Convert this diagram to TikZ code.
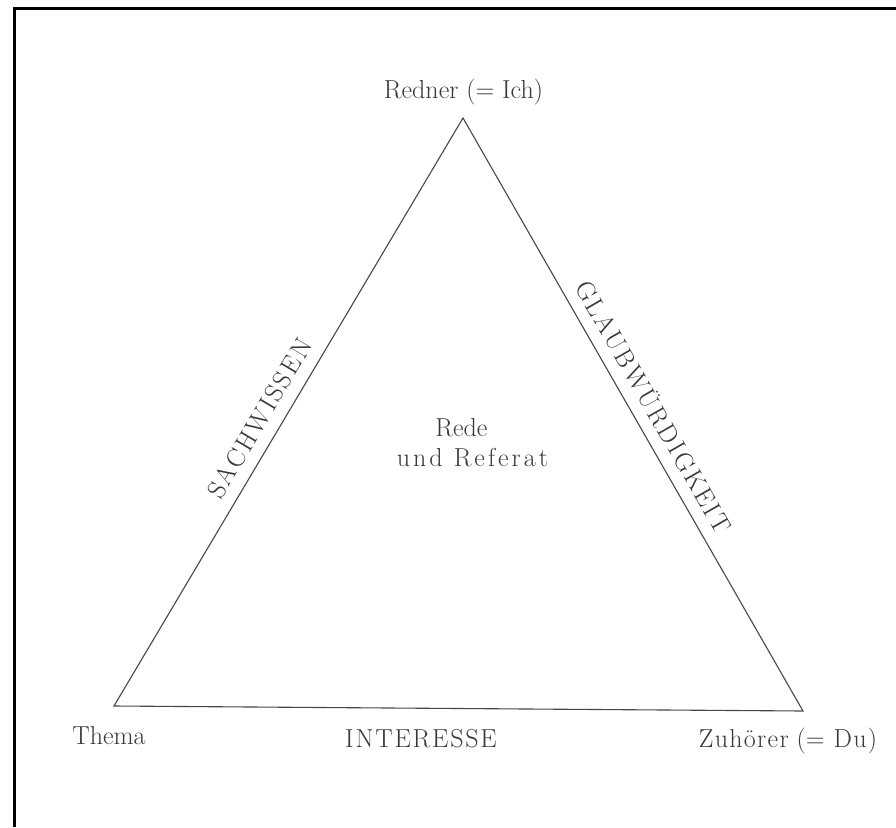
\documentclass[tikz,border=0pt]{standalone}
\usepackage{fontspec}
\ExplSyntaxOn
\NewDocumentCommand\trk{mm}{\tl_map_inline:nn{#2}{##1\kern#1}\unkern}
\ExplSyntaxOff
\begin{document}
\begin{tikzpicture}[x=1pt,y=-1pt,
  ink/.style={text=black!78},
  lbl/.style={ink,inner sep=0pt,font=\fontsize{26}{32}\selectfont},
  edgelbl/.style={ink,inner xsep=0pt,inner ysep=12pt,sloped,anchor=south,font=\fontsize{26}{32}\selectfont},
  tri/.style={draw=black!72,line width=1.1pt,line join=miter},
  frame/.style={draw=black,line width=3pt}]
\useasboundingbox (0,0) rectangle (896,827);
\fill[white] (0,0) rectangle (896,827);
\draw[frame] (14,827) -- (14,8) -- (896,8);
\coordinate (R) at (463,118);
\coordinate (T) at (114,706);
\coordinate (Z) at (803,711);
\draw[tri] (R) -- (Z) -- (T) -- cycle;
\path (T) -- (R) node[edgelbl,pos=0.47] (sach) {\trk{2.2pt}{SACHWISSEN}};
\path (R) -- (Z) node[edgelbl,pos=0.505] (glaub) {\trk{2.3pt}{GLAUBWÜRDIGKEIT}};
\node[lbl,anchor=base] (redner) at (463.5,98) {Redner (= Ich)};
\node[lbl,anchor=base] (thema) at (109,744) {Thema};
\node[lbl,anchor=base] (zuh) at (788,747) {\trk{1.3pt}{Zuhörer}\ (=\kern1.3pt\ \trk{1.3pt}{Du)}};
\node[lbl,anchor=base] (inter) at (421,747) {\trk{1.8pt}{INTERESSE}};
\node[lbl,anchor=base] (rede) at (461.5,436) {Rede};
\node[lbl,anchor=base] (referat) at (472.5,466) {\trk{3pt}{und}\hspace{11pt}\trk{3pt}{Referat}};
\end{tikzpicture}
\end{document}
